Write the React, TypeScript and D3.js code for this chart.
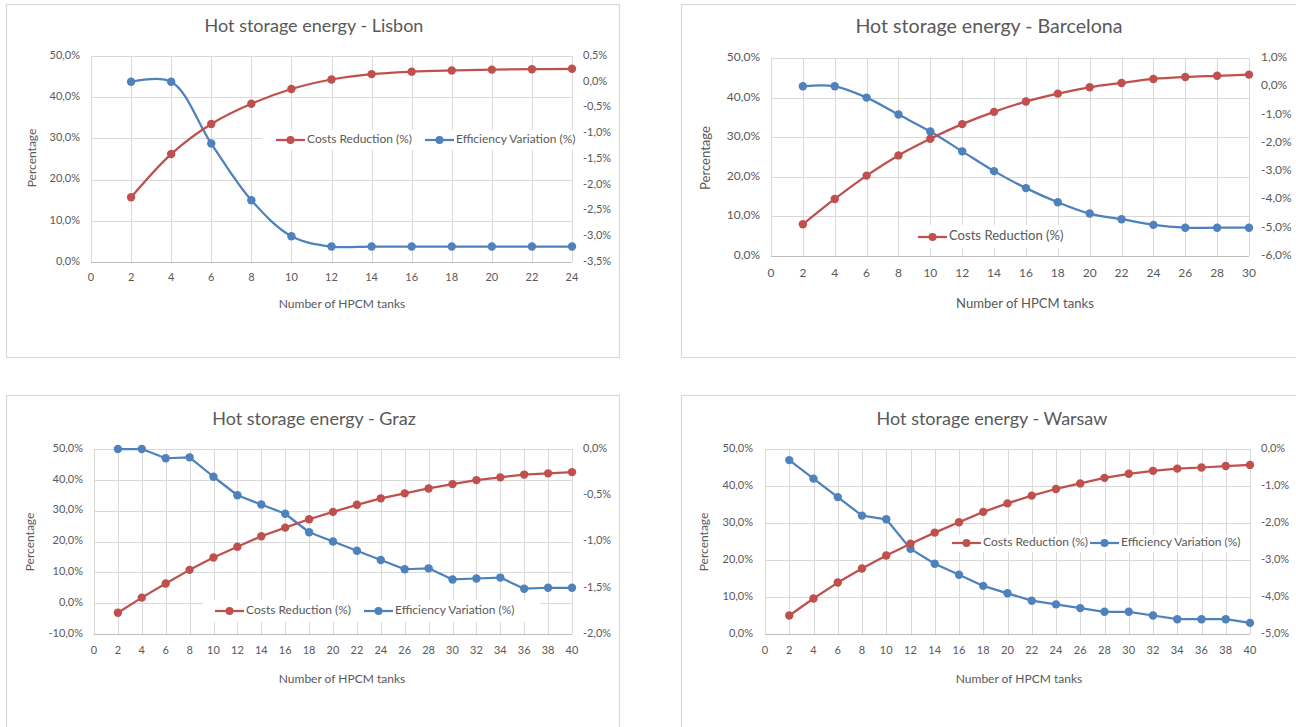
import React from "react";
import * as d3 from "d3";

// ---------- DATA ----------
const lisbonTanks = [2, 4, 6, 8, 10, 12, 14, 16, 18, 20, 22, 24];
const lisbonCosts = [15.7, 26.2, 33.5, 38.4, 42.0, 44.3, 45.6, 46.2, 46.5, 46.7, 46.8, 46.9];
const lisbonEfficiency = [0.0, 0.0, -1.2, -2.3, -3.0, -3.2, -3.2, -3.2, -3.2, -3.2, -3.2, -3.2];

const barcelonaTanks = [2, 4, 6, 8, 10, 12, 14, 16, 18, 20, 22, 24, 26, 28, 30];
const barcelonaCosts = [8.0, 14.4, 20.3, 25.4, 29.6, 33.3, 36.4, 39.0, 41.0, 42.6, 43.7, 44.7, 45.2, 45.5, 45.8];
const barcelonaEfficiency = [0.0, 0.0, -0.4, -1.0, -1.6, -2.3, -3.0, -3.6, -4.1, -4.5, -4.7, -4.9, -5.0, -5.0, -5.0];

const grazTanks = [2, 4, 6, 8, 10, 12, 14, 16, 18, 20, 22, 24, 26, 28, 30, 32, 34, 36, 38, 40];
const grazCosts = [-3.1, 1.8, 6.4, 10.8, 14.8, 18.3, 21.7, 24.5, 27.2, 29.6, 31.9, 34.0, 35.6, 37.2, 38.6, 39.9, 40.8, 41.7, 42.1, 42.5];
const grazEfficiency = [0.0, 0.0, -0.1, -0.09, -0.3, -0.5, -0.6, -0.7, -0.9, -1.0, -1.1, -1.2, -1.3, -1.29, -1.41, -1.4, -1.39, -1.51, -1.5, -1.5];

const warsawTanks = [2, 4, 6, 8, 10, 12, 14, 16, 18, 20, 22, 24, 26, 28, 30, 32, 34, 36, 38, 40];
const warsawCosts = [5.0, 9.6, 13.9, 17.7, 21.2, 24.4, 27.4, 30.2, 33.0, 35.3, 37.4, 39.2, 40.7, 42.2, 43.3, 44.1, 44.7, 45.0, 45.4, 45.7];
const warsawEfficiency = [-0.3, -0.8, -1.3, -1.8, -1.9, -2.7, -3.1, -3.4, -3.7, -3.9, -4.1, -4.2, -4.3, -4.4, -4.4, -4.5, -4.6, -4.6, -4.6, -4.7];

const seriesNames = ["Costs Reduction (%)", "Efficiency Variation (%)"];
const xAxisTitle = "Number of HPCM tanks";
const yAxisTitle = "Percentage";

// ---------- STYLE ----------
const RED = "#C0504D";
const BLUE = "#4F81BD";
const TEXT = "#595959";
const GRID = "#d9d9d9";
const FONT = "Lato, 'Open Sans', sans-serif";

const fmt = (v: number) => v.toFixed(1).replace(".", ",") + "%";

type Legend = {
  box: [number, number, number, number];
  y: number;
  entries: { color: string; name: string; x: number }[];
};

type ChartProps = {
  title: string;
  box: [number, number, number, number];
  plot: { l: number; r: number; t: number; b: number };
  titleX: number;
  titleY: number;
  xTitleX: number;
  xTitleY: number;
  yTitleX: number;
  yTitleY: number;
  xMax: number;
  leftDomain: [number, number];
  leftStep: number;
  rightDomain: [number, number];
  rightStep: number;
  leftLabelX: number;
  rightLabelX: number;
  xLabelY: number;
  tanks: number[];
  costs: number[];
  eff: number[];
  smooth: boolean;
  legend: Legend;
  fs?: number;
};

function ticks(lo: number, hi: number, step: number) {
  const out: number[] = [];
  const n = Math.round((hi - lo) / step);
  for (let i = 0; i <= n; i++) out.push(+(lo + i * step).toFixed(4));
  return out;
}

function Chart(p: ChartProps) {
  const s = p.fs ?? 1;
  const x = d3.scaleLinear().domain([0, p.xMax]).range([p.plot.l, p.plot.r]);
  const yL = d3.scaleLinear().domain(p.leftDomain).range([p.plot.b, p.plot.t]);
  const yR = d3.scaleLinear().domain(p.rightDomain).range([p.plot.b, p.plot.t]);
  const curve = p.smooth ? d3.curveCatmullRom.alpha(0.5) : d3.curveLinear;
  const costsLine = d3
    .line<number>()
    .x((_, i) => x(p.tanks[i]))
    .y((d) => yL(d))
    .curve(curve);
  const effLine = d3
    .line<number>()
    .x((_, i) => x(p.tanks[i]))
    .y((d) => yR(d))
    .curve(curve);
  const xTicks = d3.range(0, p.xMax + 1, 2);
  const lTicks = ticks(p.leftDomain[0], p.leftDomain[1], p.leftStep);
  const rTicks = ticks(p.rightDomain[0], p.rightDomain[1], p.rightStep);
  const [bx, by, bw, bh] = p.box;
  const lg = p.legend;
  return (
    <g fontFamily={FONT}>
      <rect x={bx + 0.5} y={by + 0.5} width={bw} height={bh} fill="#fff" stroke={GRID} strokeWidth={1.2} />
      <text x={p.titleX} y={p.titleY} textAnchor="middle" dominantBaseline="middle" fontSize={18 * s} fill={TEXT}>
        {p.title}
      </text>
      {/* grid */}
      {lTicks.map((t) => (
        <line key={"h" + t} x1={p.plot.l} x2={p.plot.r} y1={Math.round(yL(t)) + 0.5} y2={Math.round(yL(t)) + 0.5} stroke={GRID} />
      ))}
      {xTicks.map((t) => (
        <line key={"v" + t} x1={Math.round(x(t)) + 0.5} x2={Math.round(x(t)) + 0.5} y1={p.plot.t} y2={p.plot.b} stroke={GRID} />
      ))}
      <line x1={p.plot.l} x2={p.plot.r} y1={Math.round(p.plot.b) + 0.5} y2={Math.round(p.plot.b) + 0.5} stroke="#bfbfbf" />
      {/* tick labels */}
      {lTicks.map((t) => (
        <text key={"l" + t} x={p.leftLabelX} y={yL(t)} textAnchor="end" dominantBaseline="middle" fontSize={11 * s} fill={TEXT}>
          {fmt(t)}
        </text>
      ))}
      {rTicks.map((t) => (
        <text key={"r" + t} x={p.rightLabelX} y={yR(t)} textAnchor="start" dominantBaseline="middle" fontSize={11 * s} fill={TEXT}>
          {fmt(t)}
        </text>
      ))}
      {xTicks.map((t) => (
        <text key={"x" + t} x={x(t)} y={p.xLabelY} textAnchor="middle" dominantBaseline="middle" fontSize={11 * s} fill={TEXT}>
          {t}
        </text>
      ))}
      <text x={p.xTitleX} y={p.xTitleY} textAnchor="middle" dominantBaseline="middle" fontSize={12 * s} fill={TEXT}>
        {xAxisTitle}
      </text>
      <text
        transform={`translate(${p.yTitleX},${p.yTitleY}) rotate(-90)`}
        textAnchor="middle"
        dominantBaseline="middle"
        fontSize={12 * s}
        fill={TEXT}
      >
        {yAxisTitle}
      </text>
      {/* legend background */}
      <rect x={lg.box[0]} y={lg.box[1]} width={lg.box[2]} height={lg.box[3]} fill="#fff" />
      {/* series */}
      <path d={effLine(p.eff) || ""} fill="none" stroke={BLUE} strokeWidth={2.25} strokeLinejoin="round" />
      <path d={costsLine(p.costs) || ""} fill="none" stroke={RED} strokeWidth={2.25} strokeLinejoin="round" />
      {p.eff.map((v, i) => (
        <circle key={"e" + i} cx={x(p.tanks[i])} cy={yR(v)} r={4.2} fill={BLUE} />
      ))}
      {p.costs.map((v, i) => (
        <circle key={"c" + i} cx={x(p.tanks[i])} cy={yL(v)} r={4.2} fill={RED} />
      ))}
      {/* legend */}
      {lg.entries.map((e) => (
        <g key={e.name}>
          <line x1={e.x} x2={e.x + 29} y1={lg.y} y2={lg.y} stroke={e.color} strokeWidth={2.25} />
          <circle cx={e.x + 14.5} cy={lg.y} r={4} fill={e.color} />
          <text x={e.x + 31} y={lg.y} dominantBaseline="middle" fontSize={12 * s} fill={TEXT}>
            {e.name}
          </text>
        </g>
      ))}
    </g>
  );
}

export default function App() {
  return (
    <svg width={1296} height={727} style={{ position: "absolute", left: 0, top: 0, background: "#fff" }}>
      <rect x={0} y={0} width={1296} height={727} fill="#fff" />
      <Chart
        title="Hot storage energy - Lisbon"
        box={[6, 4, 613, 353]}
        plot={{ l: 91, r: 572, t: 56, b: 262 }}
        titleX={314}
        titleY={27}
        xTitleX={342}
        xTitleY={305}
        yTitleX={33}
        yTitleY={158}
        xMax={24}
        leftDomain={[0, 50]}
        leftStep={10}
        rightDomain={[-3.5, 0.5]}
        rightStep={0.5}
        leftLabelX={80}
        rightLabelX={583}
        xLabelY={278}
        tanks={lisbonTanks}
        costs={lisbonCosts}
        eff={lisbonEfficiency}
        smooth={true}
        legend={{
          box: [262, 130, 316, 20],
          y: 140,
          entries: [
            { color: RED, name: seriesNames[0], x: 276 },
            { color: BLUE, name: seriesNames[1], x: 425 },
          ],
        }}
      />
      <Chart
        title="Hot storage energy - Barcelona"
        box={[681, 4, 640, 353]}
        plot={{ l: 771, r: 1249, t: 58, b: 256 }}
        titleX={989}
        titleY={28}
        xTitleX={1025}
        xTitleY={305}
        yTitleX={707}
        yTitleY={158}
        xMax={30}
        leftDomain={[0, 50]}
        leftStep={10}
        rightDomain={[-6, 1]}
        rightStep={1}
        leftLabelX={760}
        rightLabelX={1261}
        xLabelY={274}
        tanks={barcelonaTanks}
        costs={barcelonaCosts}
        eff={barcelonaEfficiency}
        smooth={true}
        fs={1.09}
        legend={{
          box: [905, 225, 170, 23],
          y: 237,
          entries: [{ color: RED, name: seriesNames[0], x: 918 }],
        }}
      />
      <Chart
        title="Hot storage energy - Graz"
        box={[6, 395, 613, 360]}
        plot={{ l: 94, r: 572, t: 449, b: 634 }}
        titleX={314}
        titleY={420}
        xTitleX={342}
        xTitleY={680}
        yTitleX={31}
        yTitleY={542}
        xMax={40}
        leftDomain={[-10, 50]}
        leftStep={10}
        rightDomain={[-2, 0]}
        rightStep={0.5}
        leftLabelX={83}
        rightLabelX={583}
        xLabelY={651}
        tanks={grazTanks}
        costs={grazCosts}
        eff={grazEfficiency}
        smooth={false}
        legend={{
          box: [203, 600, 337, 22],
          y: 611,
          entries: [
            { color: RED, name: seriesNames[0], x: 215 },
            { color: BLUE, name: seriesNames[1], x: 364 },
          ],
        }}
      />
      <Chart
        title="Hot storage energy - Warsaw"
        box={[681, 395, 640, 360]}
        plot={{ l: 765, r: 1250, t: 449, b: 634 }}
        titleX={992}
        titleY={420}
        xTitleX={1019}
        xTitleY={680}
        yTitleX={705}
        yTitleY={542}
        xMax={40}
        leftDomain={[0, 50]}
        leftStep={10}
        rightDomain={[-5, 0]}
        rightStep={1}
        leftLabelX={753}
        rightLabelX={1261}
        xLabelY={651}
        tanks={warsawTanks}
        costs={warsawCosts}
        eff={warsawEfficiency}
        smooth={false}
        legend={{
          box: [948, 535, 300, 17],
          y: 543,
          entries: [
            { color: RED, name: seriesNames[0], x: 952 },
            { color: BLUE, name: seriesNames[1], x: 1090 },
          ],
        }}
      />
    </svg>
  );
}
